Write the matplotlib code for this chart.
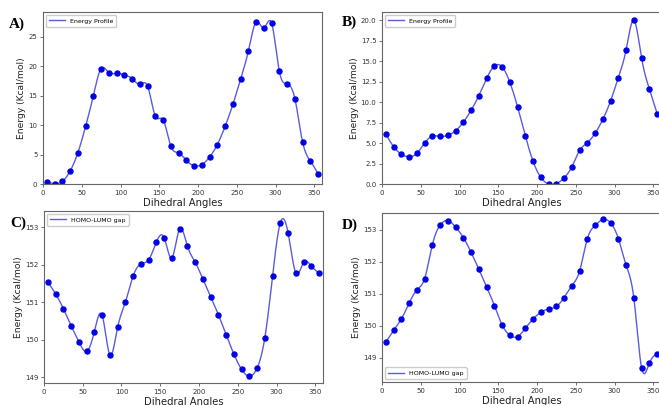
import numpy as np
import matplotlib

matplotlib.use("Agg")
import matplotlib.pyplot as plt

# dihedral scan points (degrees)
angles = [5 + 10 * i for i in range(36)]

energy_a = [0.4, 0.05, 0.45, 2.2, 5.3, 9.8, 15.0, 19.6, 18.9, 18.8, 18.5, 17.9,
            16.9, 16.6, 11.5, 10.9, 6.4, 5.3, 4.0, 3.1, 3.3, 4.6, 6.7, 9.8,
            13.5, 17.8, 22.6, 27.5, 26.5, 27.3, 19.1, 17.0, 14.5, 7.1, 3.9, 1.75]

energy_b = [6.1, 4.55, 3.65, 3.3, 3.75, 5.0, 5.85, 5.8, 5.95, 6.5, 7.55, 9.0,
            10.8, 12.9, 14.4, 14.3, 12.4, 9.4, 5.85, 2.75, 0.8, 0.0, 0.05, 0.75,
            2.1, 4.1, 5.05, 6.2, 7.9, 10.15, 13.0, 16.4, 20.0, 15.35, 11.6, 8.6]

gap_c = [151.54, 151.22, 150.83, 150.37, 149.95, 149.69, 150.22, 150.65, 149.60,
         150.33, 151.0, 151.70, 152.02, 152.13, 152.60, 152.72, 152.18, 152.95,
         152.50, 152.07, 151.62, 151.15, 150.67, 150.14, 149.62, 149.21, 149.03,
         149.25, 150.06, 151.71, 153.12, 152.84, 151.78, 152.06, 151.96, 151.78]

gap_d = [149.49, 149.85, 150.21, 150.70, 151.12, 151.47, 152.53, 153.14, 153.28,
         153.08, 152.75, 152.29, 151.76, 151.21, 150.63, 150.02, 149.70, 149.66,
         149.92, 150.21, 150.42, 150.52, 150.60, 150.88, 151.25, 151.71, 152.72,
         153.13, 153.32, 153.21, 152.72, 151.89, 150.85, 148.68, 148.83, 149.13]


def natural_spline(x, y, xs):
    """Natural cubic spline through (x, y), evaluated at xs."""
    x = np.asarray(x, float)
    y = np.asarray(y, float)
    n = len(x)
    h = np.diff(x)
    A = np.zeros((n, n))
    r = np.zeros(n)
    A[0, 0] = A[-1, -1] = 1.0
    for i in range(1, n - 1):
        A[i, i - 1] = h[i - 1]
        A[i, i] = 2 * (h[i - 1] + h[i])
        A[i, i + 1] = h[i]
        r[i] = 6 * ((y[i + 1] - y[i]) / h[i] - (y[i] - y[i - 1]) / h[i - 1])
    m = np.linalg.solve(A, r)
    idx = np.clip(np.searchsorted(x, xs) - 1, 0, n - 2)
    x0, x1 = x[idx], x[idx + 1]
    hh = x1 - x0
    t0, t1 = x1 - xs, xs - x0
    return (m[idx] * t0 ** 3 / (6 * hh) + m[idx + 1] * t1 ** 3 / (6 * hh)
            + (y[idx] / hh - m[idx] * hh / 6) * t0
            + (y[idx + 1] / hh - m[idx + 1] * hh / 6) * t1)


W, H = 659, 405
fig = plt.figure(figsize=(W / 100, H / 100), dpi=100)


def box(l, r, t, b):
    return [l / W, 1 - b / H, (r - l) / W, (b - t) / H]


panels = [
    ("A)", energy_a, "Energy Profile", box(43, 322, 12, 184), (0, 29.2),
     np.arange(0, 26, 5), "{:g}", "upper left", (9, 24)),
    ("B)", energy_b, "Energy Profile", box(382, 661, 12, 184), (0, 21.0),
     np.arange(0, 20.1, 2.5), "{:.1f}", "upper left", (342, 22)),
    ("C)", gap_c, "HOMO-LUMO gap", box(44, 323, 211, 383), (148.85, 153.43),
     np.arange(149, 154), "{:g}", "upper left", (10, 223)),
    ("D)", gap_d, "HOMO-LUMO gap", box(382, 661, 213, 382), (148.24, 153.52),
     np.arange(149, 154), "{:g}", "lower left", (342, 225)),
]

xs = np.linspace(angles[0], angles[-1], 600)
for tag, vals, label, rect, ylim, yticks, fmt, loc, tagpos in panels:
    ax = fig.add_axes(rect)
    ax.plot(xs, natural_spline(angles, vals, xs), color="#5b5be0", lw=1.0,
            label=label)
    ax.plot(angles, vals, "o", color="#0000e6", ms=3.6, ls="none")
    ax.set_xlim(0, 360)
    ax.set_ylim(*ylim)
    ax.set_xticks(range(0, 351, 50))
    ax.set_yticks(yticks)
    ax.set_yticklabels([fmt.format(v) for v in yticks])
    ax.tick_params(labelsize=5, length=2.5, width=0.6, color="#555555",
                   labelcolor="#333333", pad=1.5)
    for sp in ax.spines.values():
        sp.set_color("#666666")
        sp.set_linewidth(0.8)
    ax.set_xlabel("Dihedral Angles", fontsize=7.2, labelpad=2, color="#222222")
    ax.set_ylabel("Energy (Kcal/mol)", fontsize=6.6, labelpad=1.5, color="#222222")
    ax.legend(loc=loc, fontsize=4.5, handlelength=2.5, borderpad=0.5,
              framealpha=1, edgecolor="#cccccc", fancybox=True)
    fig.text(tagpos[0] / W, 1 - tagpos[1] / H, tag, fontsize=11,
             fontweight="bold", family="Liberation Serif", va="center",
             ha="left")

fig.savefig("out.png", dpi=100)
